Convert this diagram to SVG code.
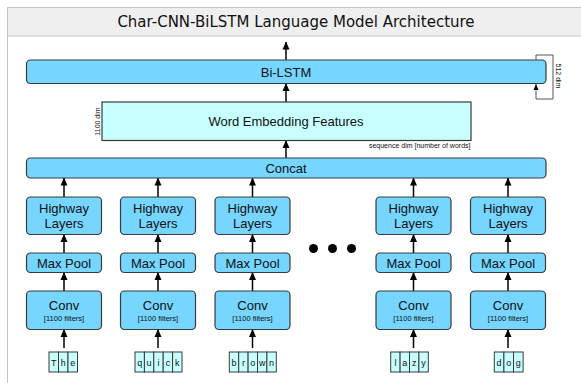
<svg xmlns="http://www.w3.org/2000/svg" width="581" height="383" viewBox="0 0 581 383">
<defs>
<marker id="ah" markerWidth="8" markerHeight="10" refX="7.5" refY="3.5" orient="auto" markerUnits="userSpaceOnUse" viewBox="0 0 8 7">
<path d="M0,0 L8,3.5 L0,7 z" fill="#000"/>
</marker>
<marker id="ahs" markerWidth="6" markerHeight="7" refX="6" refY="2.5" orient="auto" markerUnits="userSpaceOnUse" viewBox="0 0 6 5">
<path d="M0,0 L6,2.5 L0,5 z" fill="#000"/>
</marker>
</defs>
<style>
.blk{fill:#76d6ff;stroke:#3a3a3a;stroke-width:1.2}
.cyan{fill:#c8ffff;stroke:#3a3a3a;stroke-width:1.2}
.cell{fill:#c8ffff;stroke:#3a3a3a;stroke-width:1}
.t{font-family:"Liberation Sans",Arial,sans-serif;font-size:13px;fill:#111;text-anchor:middle}
.s{font-family:"Liberation Sans",Arial,sans-serif;font-size:7.5px;fill:#111;text-anchor:middle}
.xs{font-family:"Liberation Sans",Arial,sans-serif;font-size:7px;fill:#111}
.l{font-family:"Liberation Sans",Arial,sans-serif;font-size:9px;fill:#111;text-anchor:middle}
.ar{stroke:#000;stroke-width:1.5;fill:none;marker-end:url(#ah)}
</style>
<rect x="0" y="0" width="581" height="383" fill="#fff"/>
<rect x="7.5" y="7.5" width="600" height="400" fill="#fff" stroke="#c4c4c4" stroke-width="1"/>
<rect x="7.5" y="7.5" width="600" height="28.5" fill="#efefef" stroke="#c4c4c4" stroke-width="1"/>
<text x="296" y="27" style="font-family:'DejaVu Sans',Verdana,sans-serif;font-size:15px;fill:#111;text-anchor:middle">Char-CNN-BiLSTM Language Model Architecture</text>

<g id="connectors">
<path class="ar" d="M286,60 V42"/>
<path class="ar" d="M286,102 V83.5"/>
<path class="ar" d="M286,158 V140.5"/>
<path class="ar" d="M64,197 V178"/>
<path class="ar" d="M158,197 V178"/>
<path class="ar" d="M252.5,197 V178"/>
<path class="ar" d="M413.5,197 V178"/>
<path class="ar" d="M508,197 V178"/>
<path class="ar" d="M64,253 V234.5"/>
<path class="ar" d="M158,253 V234.5"/>
<path class="ar" d="M252.5,253 V234.5"/>
<path class="ar" d="M413.5,253 V234.5"/>
<path class="ar" d="M508,253 V234.5"/>
<path class="ar" d="M64,291 V272.5"/>
<path class="ar" d="M158,291 V272.5"/>
<path class="ar" d="M252.5,291 V272.5"/>
<path class="ar" d="M413.5,291 V272.5"/>
<path class="ar" d="M508,291 V272.5"/>
<path class="ar" d="M64,348 V329.5"/>
<path class="ar" d="M158,348 V329.5"/>
<path class="ar" d="M252.5,348 V329.5"/>
<path class="ar" d="M413.5,348 V329.5"/>
<path class="ar" d="M508,348 V329.5"/>
<path d="M536,60 V55 H553 V99 H536 V84" fill="none" stroke="#555" stroke-width="1" marker-end="url(#ahs)"/>
</g>

<g id="bilstm">
<rect class="blk" x="26.5" y="60" width="519.5" height="23.5" rx="4"/>
<text class="t" x="286" y="76.5">Bi-LSTM</text>
<text class="xs" transform="translate(556,76) rotate(90)" text-anchor="middle">512 dim</text>
</g>

<g id="word-embedding">
<rect class="cyan" x="102" y="102" width="369" height="38.5"/>
<text class="t" x="286" y="125.5">Word Embedding Features</text>
<text class="xs" transform="translate(99.5,121.5) rotate(-90)" text-anchor="middle">1100 dim</text>
<text class="xs" x="470.5" y="148" text-anchor="end">sequence dim [number of words]</text>
</g>

<g id="concat">
<rect class="blk" x="26.5" y="158" width="519.5" height="20" rx="4"/>
<text class="t" x="286" y="173">Concat</text>
</g>

<g id="col1">
<rect class="blk" x="26.5" y="197" width="75" height="37.5" rx="4"/>
<text class="t" x="64" y="212.5">Highway</text>
<text class="t" x="64" y="227.5">Layers</text>
<rect class="blk" x="26.5" y="253" width="75" height="19.5" rx="4"/>
<text class="t" x="64" y="267.5">Max Pool</text>
<rect class="blk" x="26.5" y="291" width="75" height="38.5" rx="4"/>
<text class="t" x="64" y="309.5">Conv</text>
<text class="s" x="64" y="321">[1100 filters]</text>
</g>
<g id="col2">
<rect class="blk" x="120.5" y="197" width="75" height="37.5" rx="4"/>
<text class="t" x="158" y="212.5">Highway</text>
<text class="t" x="158" y="227.5">Layers</text>
<rect class="blk" x="120.5" y="253" width="75" height="19.5" rx="4"/>
<text class="t" x="158" y="267.5">Max Pool</text>
<rect class="blk" x="120.5" y="291" width="75" height="38.5" rx="4"/>
<text class="t" x="158" y="309.5">Conv</text>
<text class="s" x="158" y="321">[1100 filters]</text>
</g>
<g id="col3">
<rect class="blk" x="215" y="197" width="75" height="37.5" rx="4"/>
<text class="t" x="252.5" y="212.5">Highway</text>
<text class="t" x="252.5" y="227.5">Layers</text>
<rect class="blk" x="215" y="253" width="75" height="19.5" rx="4"/>
<text class="t" x="252.5" y="267.5">Max Pool</text>
<rect class="blk" x="215" y="291" width="75" height="38.5" rx="4"/>
<text class="t" x="252.5" y="309.5">Conv</text>
<text class="s" x="252.5" y="321">[1100 filters]</text>
</g>
<g id="col4">
<rect class="blk" x="376" y="197" width="75" height="37.5" rx="4"/>
<text class="t" x="413.5" y="212.5">Highway</text>
<text class="t" x="413.5" y="227.5">Layers</text>
<rect class="blk" x="376" y="253" width="75" height="19.5" rx="4"/>
<text class="t" x="413.5" y="267.5">Max Pool</text>
<rect class="blk" x="376" y="291" width="75" height="38.5" rx="4"/>
<text class="t" x="413.5" y="309.5">Conv</text>
<text class="s" x="413.5" y="321">[1100 filters]</text>
</g>
<g id="col5">
<rect class="blk" x="470.5" y="197" width="75" height="37.5" rx="4"/>
<text class="t" x="508" y="212.5">Highway</text>
<text class="t" x="508" y="227.5">Layers</text>
<rect class="blk" x="470.5" y="253" width="75" height="19.5" rx="4"/>
<text class="t" x="508" y="267.5">Max Pool</text>
<rect class="blk" x="470.5" y="291" width="75" height="38.5" rx="4"/>
<text class="t" x="508" y="309.5">Conv</text>
<text class="s" x="508" y="321">[1100 filters]</text>
</g>

<g id="ellipsis">
<circle cx="313.5" cy="248.5" r="4.5" fill="#000"/>
<circle cx="332.5" cy="248.5" r="4.5" fill="#000"/>
<circle cx="351.5" cy="248.5" r="4.5" fill="#000"/>
</g>

<g id="word-the">
<rect class="cell" x="49" y="352" width="9.5" height="20"/>
<rect class="cell" x="58.5" y="352" width="9.5" height="20"/>
<rect class="cell" x="68" y="352" width="9.5" height="20"/>
<text class="l" x="53.75" y="365.5">T</text><text class="l" x="63.25" y="365.5">h</text><text class="l" x="72.75" y="365.5">e</text>
</g>
<g id="word-quick">
<rect class="cell" x="135" y="352" width="9.4" height="20"/>
<rect class="cell" x="144.4" y="352" width="9.4" height="20"/>
<rect class="cell" x="153.8" y="352" width="9.4" height="20"/>
<rect class="cell" x="163.2" y="352" width="9.4" height="20"/>
<rect class="cell" x="172.6" y="352" width="9.4" height="20"/>
<text class="l" x="139.7" y="365.5">q</text><text class="l" x="149.1" y="365.5">u</text><text class="l" x="158.5" y="365.5">i</text><text class="l" x="167.9" y="365.5">c</text><text class="l" x="177.3" y="365.5">k</text>
</g>
<g id="word-brown">
<rect class="cell" x="229.3" y="352" width="9.4" height="20"/>
<rect class="cell" x="238.7" y="352" width="9.4" height="20"/>
<rect class="cell" x="248.1" y="352" width="9.4" height="20"/>
<rect class="cell" x="257.5" y="352" width="9.4" height="20"/>
<rect class="cell" x="266.9" y="352" width="9.4" height="20"/>
<text class="l" x="234" y="365.5">b</text><text class="l" x="243.4" y="365.5">r</text><text class="l" x="252.8" y="365.5">o</text><text class="l" x="262.2" y="365.5">w</text><text class="l" x="271.6" y="365.5">n</text>
</g>
<g id="word-lazy">
<rect class="cell" x="390.7" y="352" width="9.4" height="20"/>
<rect class="cell" x="400.1" y="352" width="9.4" height="20"/>
<rect class="cell" x="409.5" y="352" width="9.4" height="20"/>
<rect class="cell" x="418.9" y="352" width="9.4" height="20"/>
<text class="l" x="395.4" y="365.5">l</text><text class="l" x="404.8" y="365.5">a</text><text class="l" x="414.2" y="365.5">z</text><text class="l" x="423.6" y="365.5">y</text>
</g>
<g id="word-dog">
<rect class="cell" x="494.3" y="352" width="9.6" height="20"/>
<rect class="cell" x="503.9" y="352" width="9.6" height="20"/>
<rect class="cell" x="513.5" y="352" width="9.6" height="20"/>
<text class="l" x="499.1" y="365.5">d</text><text class="l" x="508.7" y="365.5">o</text><text class="l" x="518.3" y="365.5">g</text>
</g>
</svg>
